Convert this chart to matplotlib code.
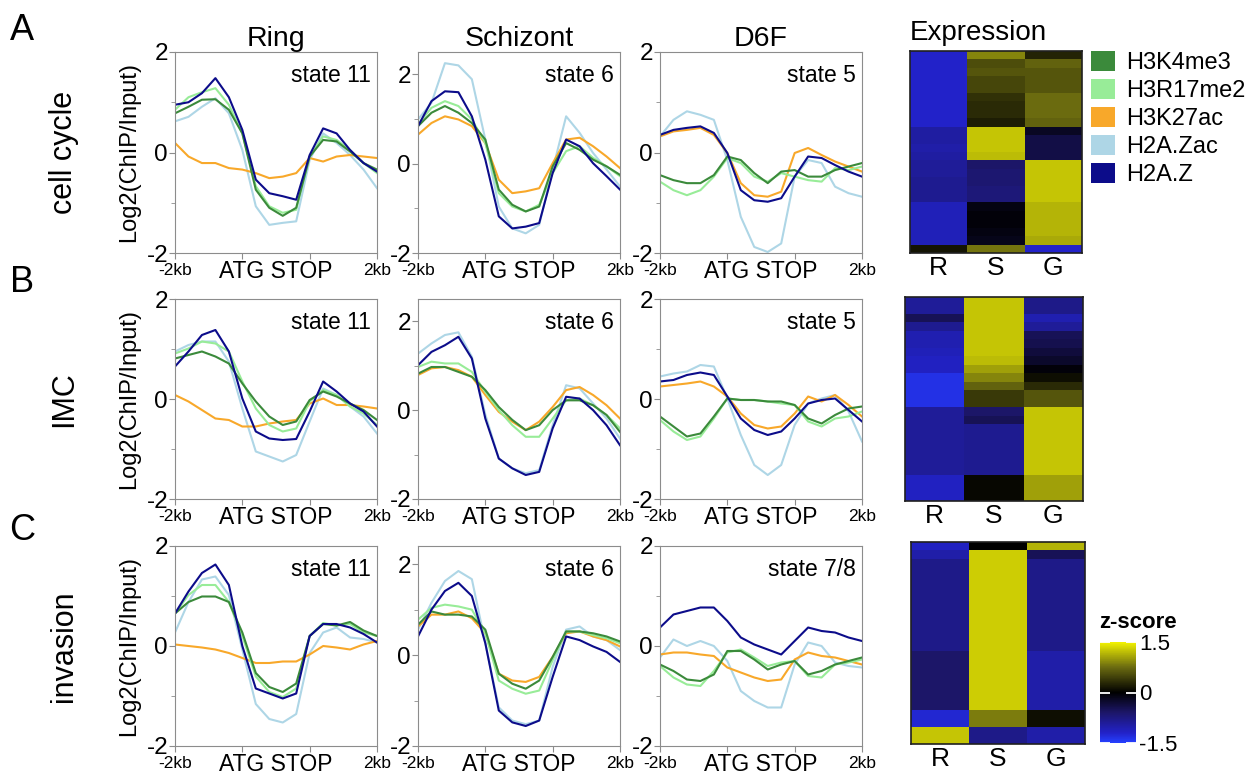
import numpy as np
import matplotlib.pyplot as plt
import matplotlib.transforms as mtransforms
from matplotlib.colors import LinearSegmentedColormap
from matplotlib.patches import Patch

plt.rcParams['font.family'] = ['Liberation Sans', 'DejaVu Sans']

# metagene positions: 0 = -2kb, 1 = ATG, 2 = STOP, 3 = 2kb
pos = [0.0, 0.2, 0.4, 0.6, 0.8, 1.0, 1.2, 1.4, 1.6, 1.8, 2.0, 2.2, 2.4, 2.6, 2.8, 3.0]

marks = ['H3K4me3', 'H3R17me2', 'H3K27ac', 'H2A.Zac', 'H2A.Z']
mark_colors = ['#3b8a3b', '#98ec98', '#f8a82a', '#aed6e6', '#0c0c8a']
draw_order = ['H2A.Zac', 'H3K27ac', 'H3R17me2', 'H3K4me3', 'H2A.Z']

stages = ['Ring', 'Schizont', 'D6F']
groups = ['cell cycle', 'IMC', 'invasion']
states = [['state 11', 'state 6', 'state 5'],
          ['state 11', 'state 6', 'state 5'],
          ['state 11', 'state 6', 'state 7/8']]

# ---- A: cell cycle ----
cc_ring = {
    'H2A.Z':    [0.95, 1.0, 1.18, 1.48, 1.1, 0.45, -0.54, -0.81, -0.87, -0.94, -0.05, 0.48, 0.38, 0.05, -0.21, -0.38],
    'H3R17me2': [0.85, 1.1, 1.2, 1.28, 0.95, 0.38, -0.67, -1.07, -1.2, -1.14, -0.08, 0.32, 0.25, 0.05, -0.21, -0.41],
    'H3K4me3':  [0.78, 0.91, 1.05, 1.06, 0.85, 0.38, -0.74, -1.1, -1.26, -1.1, -0.08, 0.25, 0.22, 0.02, -0.21, -0.34],
    'H2A.Zac':  [0.62, 0.71, 0.91, 1.08, 0.78, 0.05, -1.07, -1.44, -1.4, -1.37, -0.15, 0.38, 0.19, -0.05, -0.34, -0.71],
    'H3K27ac':  [0.19, -0.08, -0.21, -0.21, -0.31, -0.34, -0.41, -0.51, -0.48, -0.41, -0.11, -0.18, -0.08, -0.05, -0.08, -0.11],
}
cc_schizont = {
    'H2A.Zac':  [0.99, 1.36, 2.25, 2.2, 1.89, 0.54, -0.96, -1.45, -1.56, -1.37, -0.13, 1.06, 0.69, 0.24, -0.13, -0.51],
    'H2A.Z':    [0.84, 1.4, 1.62, 1.6, 1.06, 0.09, -1.18, -1.45, -1.41, -1.33, -0.21, 0.54, 0.39, 0.01, -0.28, -0.58],
    'H3R17me2': [0.88, 1.25, 1.4, 1.29, 0.99, 0.46, -0.66, -0.96, -1.07, -0.92, -0.21, 0.28, 0.39, 0.13, -0.06, -0.28],
    'H3K4me3':  [0.84, 1.14, 1.29, 1.14, 0.91, 0.54, -0.58, -0.92, -1.07, -0.96, -0.06, 0.46, 0.31, 0.09, -0.06, -0.25],
    'H3K27ac':  [0.65, 0.91, 1.06, 0.99, 0.84, 0.46, -0.36, -0.66, -0.62, -0.55, 0.01, 0.54, 0.58, 0.39, 0.16, -0.1],
}
cc_d6f = {
    'H2A.Zac':  [0.32, 0.65, 0.82, 0.75, 0.65, -0.15, -1.28, -1.88, -1.98, -1.81, -0.48, -0.15, -0.21, -0.68, -0.81, -0.88],
    'H2A.Z':    [0.35, 0.45, 0.49, 0.52, 0.39, -0.01, -0.75, -0.95, -0.98, -0.91, -0.48, -0.08, -0.11, -0.25, -0.38, -0.48],
    'H3K27ac':  [0.32, 0.42, 0.45, 0.49, 0.35, -0.01, -0.61, -0.85, -0.88, -0.78, -0.01, 0.09, -0.05, -0.18, -0.28, -0.38],
    'H3K4me3':  [-0.45, -0.55, -0.61, -0.61, -0.45, -0.08, -0.15, -0.41, -0.61, -0.38, -0.35, -0.48, -0.48, -0.35, -0.28, -0.21],
    'H3R17me2': [-0.58, -0.75, -0.85, -0.75, -0.48, -0.11, -0.21, -0.48, -0.58, -0.41, -0.48, -0.55, -0.58, -0.31, -0.35, -0.28],
}

# ---- B: IMC ----
imc_ring = {
    'H2A.Z':    [0.65, 0.95, 1.28, 1.38, 0.95, 0.01, -0.65, -0.79, -0.82, -0.8, -0.25, 0.35, 0.15, -0.09, -0.25, -0.55],
    'H2A.Zac':  [0.95, 1.08, 1.15, 1.15, 0.75, -0.19, -1.05, -1.15, -1.25, -1.12, -0.45, 0.21, 0.08, -0.15, -0.35, -0.69],
    'H3R17me2': [0.91, 1.01, 1.15, 1.11, 0.95, 0.35, -0.19, -0.52, -0.65, -0.59, -0.05, 0.18, 0.08, -0.15, -0.29, -0.52],
    'H3K4me3':  [0.81, 0.88, 0.95, 0.85, 0.71, 0.31, -0.05, -0.35, -0.52, -0.45, -0.02, 0.15, 0.05, -0.09, -0.22, -0.42],
    'H3K27ac':  [0.08, -0.05, -0.22, -0.39, -0.42, -0.55, -0.55, -0.49, -0.45, -0.42, -0.09, 0.01, -0.12, -0.12, -0.15, -0.19],
}
imc_schizont = {
    'H2A.Zac':  [1.27, 1.5, 1.69, 1.75, 1.2, -0.1, -1.09, -1.31, -1.42, -1.35, -0.34, 0.56, 0.49, 0.15, -0.19, -0.64],
    'H2A.Z':    [1.01, 1.31, 1.46, 1.65, 1.16, -0.19, -1.09, -1.31, -1.46, -1.39, -0.41, 0.3, 0.26, 0.0, -0.34, -0.79],
    'H3R17me2': [0.97, 1.09, 1.05, 1.05, 0.86, 0.41, 0.0, -0.34, -0.6, -0.6, -0.19, 0.22, 0.26, 0.11, -0.11, -0.41],
    'H3K4me3':  [0.82, 0.97, 0.97, 0.86, 0.75, 0.45, 0.07, -0.22, -0.45, -0.34, 0.0, 0.22, 0.22, 0.11, -0.11, -0.49],
    'H3K27ac':  [0.79, 0.94, 0.97, 0.9, 0.75, 0.34, -0.04, -0.26, -0.45, -0.26, 0.07, 0.45, 0.52, 0.34, 0.11, -0.19],
}
imc_d6f = {
    'H2A.Zac':  [0.45, 0.51, 0.55, 0.68, 0.65, 0.01, -0.72, -1.32, -1.52, -1.32, -0.52, -0.09, 0.01, 0.08, -0.25, -0.85],
    'H2A.Z':    [0.35, 0.38, 0.48, 0.53, 0.48, 0.05, -0.39, -0.62, -0.72, -0.65, -0.39, -0.09, -0.02, 0.01, -0.22, -0.45],
    'H3K27ac':  [0.25, 0.28, 0.31, 0.35, 0.25, 0.05, -0.29, -0.52, -0.59, -0.55, -0.29, 0.05, -0.05, 0.08, -0.12, -0.35],
    'H3K4me3':  [-0.35, -0.55, -0.75, -0.69, -0.35, 0.01, -0.02, -0.02, -0.05, -0.05, -0.12, -0.39, -0.49, -0.32, -0.19, -0.15],
    'H3R17me2': [-0.42, -0.65, -0.82, -0.75, -0.39, 0.01, -0.02, -0.02, -0.05, -0.09, -0.12, -0.45, -0.55, -0.39, -0.35, -0.25],
}

# ---- C: invasion ----
inv_ring = {
    'H2A.Z':    [0.65, 1.09, 1.46, 1.63, 1.22, 0.0, -0.85, -0.95, -1.05, -0.95, 0.2, 0.44, 0.44, 0.37, 0.24, 0.07],
    'H2A.Zac':  [0.27, 0.88, 1.33, 1.39, 1.02, -0.07, -1.16, -1.46, -1.53, -1.36, -0.14, 0.27, 0.37, 0.17, 0.14, 0.07],
    'H3R17me2': [0.65, 1.02, 1.22, 1.22, 0.88, 0.2, -0.61, -0.92, -1.02, -0.85, 0.2, 0.46, 0.41, 0.44, 0.27, 0.2],
    'H3K4me3':  [0.65, 0.88, 0.99, 0.99, 0.88, 0.27, -0.54, -0.82, -0.92, -0.75, 0.2, 0.44, 0.41, 0.48, 0.31, 0.2],
    'H3K27ac':  [0.03, 0.0, -0.03, -0.07, -0.14, -0.24, -0.34, -0.34, -0.31, -0.31, -0.17, 0.0, -0.03, -0.07, 0.03, 0.1],
}
inv_schizont = {
    'H2A.Zac':  [0.56, 1.15, 1.63, 1.85, 1.67, 0.26, -1.15, -1.44, -1.52, -1.44, -0.26, 0.56, 0.63, 0.41, 0.33, 0.11],
    'H2A.Z':    [0.41, 1.0, 1.41, 1.59, 1.3, 0.26, -1.22, -1.48, -1.56, -1.44, -0.48, 0.41, 0.33, 0.19, 0.07, -0.15],
    'H3R17me2': [0.78, 1.04, 1.11, 1.07, 1.0, 0.48, -0.56, -0.74, -0.85, -0.78, -0.11, 0.52, 0.52, 0.44, 0.37, 0.26],
    'H3K4me3':  [0.67, 0.96, 0.89, 0.89, 0.85, 0.56, -0.41, -0.63, -0.74, -0.56, -0.04, 0.52, 0.52, 0.48, 0.41, 0.3],
    'H3K27ac':  [0.63, 0.89, 0.89, 0.96, 0.81, 0.48, -0.41, -0.56, -0.59, -0.48, -0.04, 0.48, 0.52, 0.41, 0.33, 0.19],
}
inv_d6f = {
    'H2A.Z':    [0.37, 0.63, 0.7, 0.77, 0.77, 0.5, 0.17, 0.03, -0.07, -0.17, 0.1, 0.37, 0.3, 0.27, 0.17, 0.1],
    'H2A.Zac':  [-0.23, 0.13, 0.0, 0.1, 0.0, -0.3, -0.9, -1.1, -1.23, -1.23, -0.37, 0.07, 0.0, -0.33, -0.4, -0.43],
    'H3K27ac':  [-0.17, -0.13, -0.13, -0.17, -0.2, -0.43, -0.53, -0.63, -0.7, -0.67, -0.27, -0.13, -0.2, -0.23, -0.3, -0.37],
    'H3K4me3':  [-0.37, -0.5, -0.67, -0.7, -0.57, -0.1, -0.1, -0.27, -0.47, -0.37, -0.3, -0.57, -0.5, -0.37, -0.3, -0.23],
    'H3R17me2': [-0.4, -0.63, -0.77, -0.8, -0.5, -0.13, -0.07, -0.23, -0.4, -0.33, -0.3, -0.6, -0.63, -0.37, -0.33, -0.27],
}

# expression z-scores, rows top to bottom, columns R, S, G
expr_cc = [
    [-1.2, 0.9, 0.25], [-1.2, 0.55, 0.7], [-1.2, 0.6, 0.6], [-1.2, 0.5, 0.6],
    [-1.2, 0.5, 0.6], [-1.2, 0.35, 0.75], [-1.2, 0.3, 0.75], [-1.2, 0.3, 0.75],
    [-1.2, 0.2, 0.7], [-0.95, 1.25, -0.2], [-0.95, 1.25, -0.4], [-1.0, 1.25, -0.4],
    [-0.95, 1.2, -0.4], [-0.9, -0.6, 1.25], [-0.9, -0.65, 1.25], [-0.85, -0.65, 1.25],
    [-0.85, -0.7, 1.25], [-0.85, -0.7, 1.25], [-1.1, -0.1, 1.15], [-1.1, -0.05, 1.15],
    [-1.1, -0.05, 1.15], [-1.1, -0.1, 1.15], [-1.1, -0.15, 1.1], [0.15, 0.8, -1.2],
]
expr_imc = [
    [-0.9, 1.25, -0.8], [-0.9, 1.25, -0.8], [-0.5, 1.25, -1.05], [-0.85, 1.25, -0.9],
    [-1.05, 1.25, -0.5], [-1.05, 1.25, -0.45], [-1.1, 1.25, -0.35], [-1.15, 1.2, -0.25],
    [-1.15, 1.05, -0.05], [-1.35, 0.9, 0.1], [-1.35, 0.7, 0.3], [-1.35, 0.4, 0.6],
    [-1.35, 0.4, 0.6], [-0.9, -0.6, 1.25], [-0.9, -0.5, 1.25], [-0.9, -0.85, 1.25],
    [-0.9, -0.85, 1.25], [-0.9, -0.85, 1.25], [-0.9, -0.85, 1.25], [-0.9, -0.85, 1.25],
    [-0.9, -0.85, 1.25], [-1.15, 0.05, 1.05], [-1.15, 0.05, 1.05], [-1.15, 0.05, 1.05],
]
expr_inv = [
    [-1.15, 0.0, 1.15], [-1.0, 1.3, -0.5], [-0.8, 1.3, -0.8], [-0.8, 1.3, -0.8],
    [-0.8, 1.3, -0.8], [-0.8, 1.3, -0.8], [-0.8, 1.3, -0.8], [-0.8, 1.3, -0.8],
    [-0.8, 1.3, -0.8], [-0.8, 1.3, -0.8], [-0.8, 1.3, -0.8], [-0.8, 1.3, -0.8],
    [-0.8, 1.3, -0.8], [-0.6, 1.3, -1.0], [-0.6, 1.3, -1.0], [-0.6, 1.3, -1.0],
    [-0.6, 1.3, -1.0], [-0.6, 1.3, -1.0], [-0.6, 1.3, -1.0], [-0.6, 1.3, -1.0],
    [-1.25, 0.85, 0.1], [-1.25, 0.85, 0.1], [1.25, -0.8, -1.0], [1.25, -0.8, -1.0],
]
expr_cols = ['R', 'S', 'G']

profiles = [[cc_ring, cc_schizont, cc_d6f],
            [imc_ring, imc_schizont, imc_d6f],
            [inv_ring, inv_schizont, inv_d6f]]
expression = [expr_cc, expr_imc, expr_inv]

# ---------------- layout (pixels) ----------------
W, H = 1255, 774
fig = plt.figure(figsize=(W / 100, H / 100), dpi=100)

def px_axes(x0, y0, x1, y1):
    return fig.add_axes([x0 / W, 1 - y1 / H, (x1 - x0) / W, (y1 - y0) / H])

def ftext(x, y, s, **kw):
    return fig.text(x / W, 1 - y / H, s, **kw)

col_x = [(175, 377), (418, 620), (660, 862)]
row_y = [(52, 253), (299, 499), (546, 746)]
heat_box = [(910, 51, 1082, 253), (905, 297, 1083, 501), (911, 542, 1085, 744)]
schizont_top = [2.5, 2.5, 2.4]

cmap = LinearSegmentedColormap.from_list(
    'zscore', [(0.0, '#2540ff'), (0.1, '#2222c8'), (0.3, '#1c1668'),
               (0.5, '#000000'), (0.75, '#6a6a10'), (1.0, '#f2f200')])

color_of = dict(zip(marks, mark_colors))
spine_col = '#8c8c8c'

for r in range(3):
    y0, y1 = row_y[r]
    for c in range(3):
        x0, x1 = col_x[c]
        ax = px_axes(x0, y0, x1, y1)
        data = profiles[r][c]
        for m in draw_order:
            ax.plot(pos, data[m], color=color_of[m], lw=1.5)
        ax.set_xlim(0, 3)
        ax.set_ylim(-2, schizont_top[r] if c == 1 else 2)
        ax.set_yticks([-2, 0, 2])
        ax.set_yticklabels(['-2', '0', '2'])
        ax.set_yticks([-1, 1], minor=True)
        ax.set_xticks([0, 1, 2, 3])
        ax.set_xticklabels(['-2kb', '', '', '2kb'])
        for sp in ax.spines.values():
            sp.set_color(spine_col)
        ax.tick_params(axis='y', which='major', labelsize=17.5, length=4, pad=1, color=spine_col)
        ax.tick_params(axis='y', which='minor', length=3, color=spine_col)
        ax.tick_params(axis='x', labelsize=12.5, length=4, pad=3, color=spine_col)
        trans = mtransforms.blended_transform_factory(ax.transData, ax.transAxes)
        ax.text(1.5, -0.035, 'ATG STOP', transform=trans, ha='center', va='top', fontsize=16.5)
        ax.text(0.97, 0.94, states[r][c], transform=ax.transAxes, ha='right', va='top', fontsize=16.5)
        if r == 0:
            ax.set_title(stages[c], fontsize=20.5, pad=4)

    # expression heatmap
    hx0, hy0, hx1, hy1 = heat_box[r]
    hax = px_axes(hx0, hy0, hx1, hy1)
    im = hax.imshow(np.array(expression[r]), cmap=cmap, vmin=-1.5, vmax=1.5,
                    aspect='auto', interpolation='nearest')
    hax.set_yticks([])
    hax.set_xticks([0, 1, 2])
    hax.set_xticklabels(expr_cols)
    hax.tick_params(axis='x', length=0, labelsize=19, pad=2)
    for sp in hax.spines.values():
        sp.set_color('#202020')
        sp.set_linewidth(1.2)

    # row labels
    ftext(129, (y0 + y1) / 2, 'Log2(ChIP/Input)', rotation=90, ha='center', va='center', fontsize=17)
    ftext(64, (y0 + y1) / 2, groups[r], rotation=90, ha='center', va='center', fontsize=22)

ftext(22, 30, 'A', ha='center', va='center', fontsize=26)
ftext(22, 283, 'B', ha='center', va='center', fontsize=26)
ftext(22, 530, 'C', ha='center', va='center', fontsize=26)
ftext(978, 40, 'Expression', ha='center', va='baseline', fontsize=20)

# legend
handles = [Patch(facecolor=col, edgecolor='none', label=m) for m, col in zip(marks, mark_colors)]
fig.legend(handles=handles, loc='upper left', bbox_to_anchor=(1091 / W, 1 - 51 / H),
           frameon=False, fontsize=17, handlelength=1.0, handleheight=0.95,
           handletextpad=0.5, labelspacing=0.2, borderaxespad=0, borderpad=0)

# colour bar
cax = px_axes(1100, 642, 1136, 743)
cb = fig.colorbar(im, cax=cax, ticks=[-1.5, 0, 1.5])
cb.outline.set_visible(False)
cb.ax.set_yticklabels(['-1.5', '0', '1.5'])
cax.tick_params(direction='in', color='white', length=7, width=1.3, left=True, right=True,
                labelsize=16, pad=2)
ftext(1099, 622, 'z-score', ha='left', va='center', fontsize=16, fontweight='bold')

fig.savefig('out.png', dpi=100)
